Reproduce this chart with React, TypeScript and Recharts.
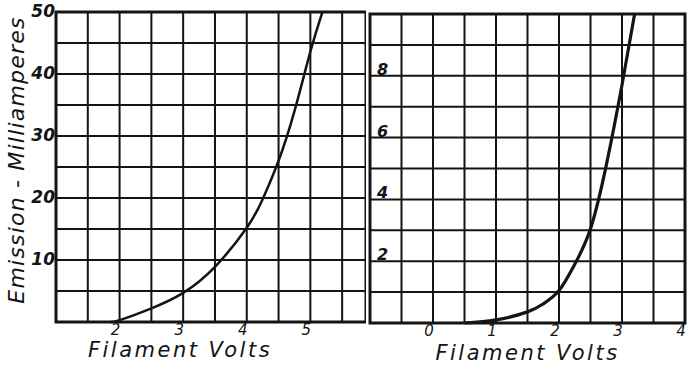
import { LineChart, Line, XAxis, YAxis, CartesianGrid, ReferenceArea } from 'recharts';

// left panel: 0-50 mA
const leftVolts = [1.85, 2, 2.5, 3, 3.5, 4, 4.25, 4.5, 4.75, 5, 5.19];
const leftMa = [0, 0.3, 2.2, 4.7, 8.9, 15.2, 19.8, 26, 34, 43.6, 50];
const leftGridX = [1, 1.5, 2, 2.5, 3, 3.5, 4, 4.5, 5, 5.5];
const leftLabelX = [2, 3, 4, 5];
const leftGridY = [0, 5, 10, 15, 20, 25, 30, 35, 40, 45, 50];
const leftLabelY = [10, 20, 30, 40, 50];
const leftDomainX = [1, 5.875];

// right panel: 0-10 mA
const rightVolts = [0.5, 1, 1.5, 1.75, 2, 2.25, 2.5, 2.75, 3, 3.2];
const rightMa = [0, 0.1, 0.36, 0.62, 1.05, 1.9, 3.05, 5.1, 7.7, 10];
const rightGridX = [-1, -0.5, 0, 0.5, 1, 1.5, 2, 2.5, 3, 3.5, 4];
const rightLabelX = [0, 1, 2, 3, 4];
const rightGridY = [0, 1, 2, 3, 4, 5, 6, 7, 8, 9, 10];
const rightLabelY = [2, 4, 6, 8];

const INK = '#141414';
const hand = { fontFamily: '"DejaVu Sans", sans-serif', fontStyle: 'italic', fill: INK };

const leftData = leftVolts.map((v, i) => ({ v, ma: leftMa[i] }));
const rightData = rightVolts.map((v, i) => ({ v, ma: rightMa[i] }));

const XTick = ({ x, y, payload, labels }: any) => {
  if (!labels.includes(payload.value)) return <g />;
  return (
    <text x={x - 4} y={y} dy={5} textAnchor="middle" fontSize={15} style={hand}>
      {payload.value}
    </text>
  );
};

const YTickLeft = ({ x, y, payload, labels }: any) => {
  if (!labels.includes(payload.value)) return <g />;
  return (
    <text x={x} y={y} dy={5} textAnchor="end" fontSize={17} fontWeight="bold" style={hand}>
      {payload.value}
    </text>
  );
};

const YTickInside = ({ x, y, payload, labels }: any) => {
  if (!labels.includes(payload.value)) return <g />;
  return (
    <text x={x + 7} y={y} dy={-1} textAnchor="start" fontSize={16} fontWeight="bold" style={hand}>
      {payload.value}
    </text>
  );
};

const xTitle = (shift: number, down: number) => (props: any) => {
  const { x, y, width } = props.viewBox;
  return (
    <text x={x + width / 2 + shift} y={y + down} textAnchor="middle" fontSize={21} letterSpacing={2.5} style={hand}>
      Filament Volts
    </text>
  );
};

const yTitle = (props: any) => {
  const { x, y, height } = props.viewBox;
  const cx = x + 16;
  const cy = y + height / 2 - 7;
  return (
    <text
      x={cx}
      y={cy}
      transform={`rotate(-90 ${cx} ${cy})`}
      textAnchor="middle"
      dominantBaseline="central"
      fontSize={22}
      letterSpacing={1.2}
      style={hand}
    >
      Emission - Milliamperes
    </text>
  );
};

export default function App() {
  return (
    <div style={{ position: 'absolute', left: 0, top: 0, width: 687, height: 366, background: '#fff' }}>
      <div style={{ position: 'absolute', left: 0, top: 0 }}>
        <LineChart width={366} height={366} data={leftData} margin={{ top: 12, right: 0, bottom: 0, left: 0 }}>
          <CartesianGrid stroke={INK} strokeWidth={2} />
          <XAxis
            dataKey="v"
            type="number"
            domain={leftDomainX}
            ticks={leftGridX}
            interval={0}
            height={44}
            axisLine={false}
            tickLine={false}
            tick={(p: any) => <XTick {...p} labels={leftLabelX} />}
            label={{ content: xTitle(-31, 35) }}
          />
          <YAxis
            type="number"
            domain={[0, 50]}
            ticks={leftGridY}
            interval={0}
            width={56}
            axisLine={false}
            tickLine={false}
            tickSize={0}
            tickMargin={1}
            tick={(p: any) => <YTickLeft {...p} labels={leftLabelY} />}
            label={{ content: yTitle }}
          />
          <ReferenceArea x1={leftDomainX[0]} x2={leftDomainX[1]} y1={0} y2={50} fill="none" stroke={INK} strokeWidth={3} />
          <Line dataKey="ma" type="natural" stroke={INK} strokeWidth={2.5} dot={false} isAnimationActive={false} />
        </LineChart>
      </div>
      <div style={{ position: 'absolute', left: 365, top: 0 }}>
        <LineChart width={322} height={366} data={rightData} margin={{ top: 14, right: 2, bottom: 0, left: 0 }}>
          <CartesianGrid stroke={INK} strokeWidth={2} />
          <XAxis
            dataKey="v"
            type="number"
            domain={[-1, 4]}
            ticks={rightGridX}
            interval={0}
            height={43}
            axisLine={false}
            tickLine={false}
            tick={(p: any) => <XTick {...p} labels={rightLabelX} />}
            label={{ content: xTitle(0, 37) }}
          />
          <YAxis
            type="number"
            domain={[0, 10]}
            ticks={rightGridY}
            interval={0}
            width={5}
            axisLine={false}
            tickLine={false}
            tickSize={0}
            tickMargin={0}
            tick={(p: any) => <YTickInside {...p} labels={rightLabelY} />}
          />
          <ReferenceArea x1={-1} x2={4} y1={0} y2={10} fill="none" stroke={INK} strokeWidth={3} />
          <Line dataKey="ma" type="natural" stroke={INK} strokeWidth={3.2} dot={false} isAnimationActive={false} />
        </LineChart>
      </div>
    </div>
  );
}
